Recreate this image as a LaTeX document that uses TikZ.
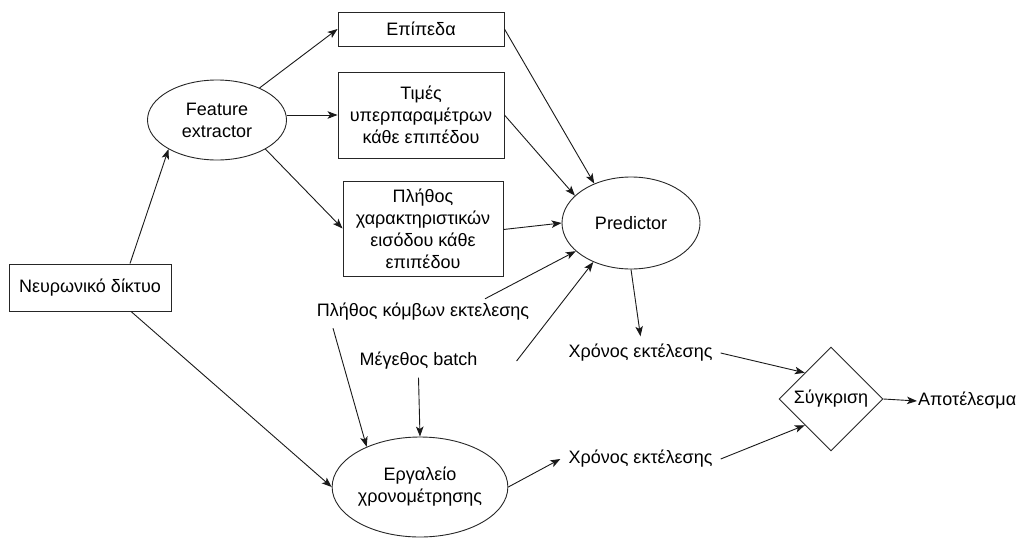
\documentclass[tikz,border=0pt]{standalone}
\usepackage{fontspec}
\setmainfont{Liberation Sans}
\usetikzlibrary{shapes.geometric,arrows.meta}
\begin{document}
\begin{tikzpicture}[x=1pt,y=-1pt,
  font=\fontsize{18}{22}\selectfont,
  every node/.style={align=center},
  box/.style={draw=black!85, line width=0.9pt, rectangle, inner sep=2pt},
  oval/.style={draw=black!85, line width=0.9pt, ellipse, inner sep=0pt},
  decide/.style={draw=black!85, line width=0.9pt, diamond, inner sep=0pt,
                 minimum width=104pt, minimum height=104pt},
  lbl/.style={inner sep=8pt, text height=13pt, text depth=4pt},
  arr/.style={draw=black!90, line width=0.9pt,
              -{Stealth[length=10pt,width=7.5pt,inset=2.5pt]}}
]
\useasboundingbox (0,0) rectangle (1019,538);

% inputs and feature extraction
\node[box, minimum width=162pt, minimum height=47pt] (nn) at (90,287.5) {Νευρωνικό δίκτυο};
\node[oval, minimum width=139pt, minimum height=80pt] (fe) at (217,120) {Feature\\extractor};

\node[box, minimum width=166pt, minimum height=34pt] (ep) at (421,29) {Επίπεδα};
\node[box, minimum width=166pt, minimum height=86pt] (tim) at (421,115) {Τιμές\\υπερπαραμέτρων\\κάθε επιπέδου};
\node[box, minimum width=160pt, minimum height=95pt] (pl) at (423,228.5) {Πλήθος\\χαρακτηριστικών\\εισόδου κάθε\\επιπέδου};

\node[oval, minimum width=138pt, minimum height=92pt] (pr) at (631,223) {Predictor};

\node[lbl] (kom) at (423,311.5) {Πλήθος κόμβων εκτελεσης};
\node[lbl] (meg) at (418.5,361) {Μέγεθος batch};

\node[oval, minimum width=148pt, minimum height=100pt] (erg) at (420,487) {Εργαλείο\\χρονομέτρησης};

\node[lbl] (xr1) at (640.5,353) {Χρόνος εκτέλεσης};
\node[lbl] (xr2) at (640.5,459) {Χρόνος εκτέλεσης};

\node[decide] (syg) at (831,399) {Σύγκριση};
\node[lbl, inner sep=1pt, anchor=west] (apo) at (917,401) {Αποτέλεσμα};

% connectors
\draw[arr] ([xshift=40pt]nn.north) -- (fe.211);
\draw[arr] ([xshift=41pt]nn.south) -- (erg.west);

\draw[arr] (fe.37) -- (ep.west);
\draw[arr] (fe.east |- tim.west) -- (tim.west);
\draw[arr] (fe.329) -- (pl.west);

\draw[arr] (ep.east) -- (pr.133);
\draw[arr] (tim.east) -- (pr.154);
\draw[arr] ([yshift=-1pt]pl.east) -- (pr.west);
\draw[arr] ([xshift=62pt,yshift=-4pt]kom.north) -- (pr.207);
\draw[arr] ([xshift=31pt]meg.east) -- (pr.226);

\draw[arr] ([xshift=-90pt]kom.south) -- (erg.143);
\draw[arr] (meg.south) -- (erg.north);

\draw[arr] (pr.south) -- (xr1.north);
\draw[arr] (erg.east) -- (xr2.west);

\draw[arr] (xr1.east) -- (syg.north west);
\draw[arr] (xr2.east) -- (syg.south west);
\draw[arr] (syg.east) -- (apo.west);
\end{tikzpicture}
\end{document}
